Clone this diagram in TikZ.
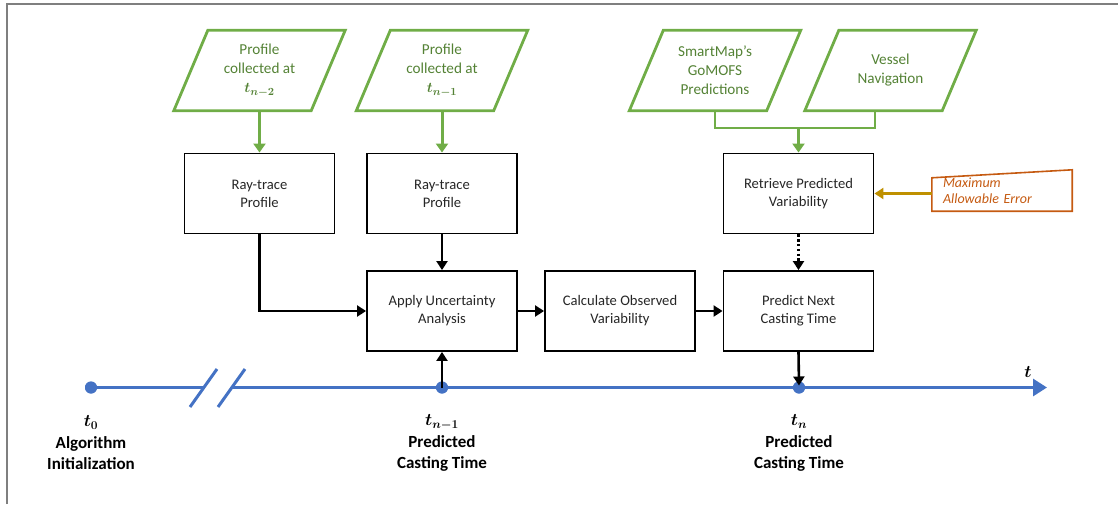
\documentclass[tikz,border=0pt]{standalone}
\usepackage{fontspec}
\setmainfont{Carlito}
\usepackage{amsmath}
\usepackage{bm}
\usetikzlibrary{arrows.meta,calc}
\definecolor{cgreen}{HTML}{70AD47}
\definecolor{cgtext}{HTML}{548235}
\definecolor{cblue}{HTML}{4472C4}
\definecolor{corange}{HTML}{C55A11}
\definecolor{cgold}{HTML}{BF9000}
\definecolor{cframe}{HTML}{7F7F7F}
\definecolor{ctxt}{HTML}{262626}
\newcommand\bxfont{\fontsize{14.6}{18}\selectfont}
\newcommand\grfont{\fontsize{15.2}{19}\selectfont}
\newcommand\lbfont{\fontsize{17}{21.5}\selectfont\bfseries}
\newcommand\erfont{\fontsize{14}{16.5}\selectfont\itshape}
\begin{document}
\begin{tikzpicture}[x=1pt,y=-1pt,
  proc/.style={draw=black,line width=1.9pt,minimum width=150pt,minimum height=80pt,align=center,font=\bxfont,text=ctxt,inner sep=0pt},
  iobox/.style={minimum width=137pt,minimum height=80pt,align=center,font=\grfont,text=cgtext,inner sep=0pt},
  arr/.style={draw=black,line width=2.6pt,-{Triangle[length=9pt,width=11pt]}},
  garr/.style={draw=cgreen,line width=3pt,-{Triangle[length=9pt,width=12pt]}},
  gpath/.style={draw=cgreen,line width=2.8pt},
  tline/.style={draw=cblue,line width=3pt},
  tdot/.style={circle,fill=cblue,minimum size=12pt,inner sep=0pt},
  lbl/.style={align=center,font=\lbfont,text=black,inner sep=0pt},
  errbox/.style={minimum width=140pt,minimum height=41pt,text width=118pt,align=left,font=\erfont,text=corange,inner sep=0pt}]
\useasboundingbox (0,0) rectangle (1118,504);
\draw[cframe,line width=1.8pt] (7,504) -- (7,4) -- (1118,4);

% input parallelograms
\node[iobox] (p1) at (259.5,70.5) {Profile\\collected at\\$\bm{t_{n-2}}$};
\node[iobox] (p2) at (442,70.5) {Profile\\collected at\\$\bm{t_{n-1}}$};
\node[iobox] (p3) at (715,70.5) {SmartMap’s\\GoMOFS\\Predictions};
\node[iobox] (p4) at (890.5,70.5) {Vessel\\Navigation};
\foreach \n in {p1,p2,p3,p4}
  \draw[gpath] ([xshift=17pt]\n.north west) -- ([xshift=17pt]\n.north east)
     -- ([xshift=-17pt]\n.south east) -- ([xshift=-17pt]\n.south west) -- cycle;

% process boxes
\node[proc] (r1) at (259.5,193.5) {Ray-trace\\Profile};
\node[proc] (r2) at (442,193.5) {Ray-trace\\Profile};
\node[proc] (ret) at (798.5,193.5) {Retrieve Predicted\\Variability};
\node[proc] (apply) at (442,311) {Apply Uncertainty\\Analysis};
\node[proc] (calc) at (620,311) {Calculate Observed\\Variability};
\node[proc] (pred) at (798.5,311) {Predict Next\\Casting Time};

% maximum allowable error
\node[errbox] (err) at (1002,190.5) {Maximum\\Allowable Error};
\draw[draw=corange,line width=1.6pt] (err.south west) -- ([yshift=-8pt]err.north west)
   -- (err.north east) -- (err.south east) -- cycle;

% timeline
\node[tdot] (d0) at (91,387.5) {};
\node[tdot] (d1) at (442,387.5) {};
\node[tdot] (d2) at (799,387.5) {};
\coordinate (b1) at (204,387.5);
\coordinate (b2) at (231,387.5);
\coordinate (tend) at (1047,387.5);
\draw[tline] (d0.center) -- (b1);
\draw[tline,-{Triangle[length=14pt,width=17pt]}] (b2) -- (tend);
\coordinate (s1a) at (190,407); \coordinate (s1b) at (217,369);
\coordinate (s2a) at (218,407); \coordinate (s2b) at (245,369);
\draw[tline] (s1a) -- (s1b);
\draw[tline] (s2a) -- (s2b);
\node[tdot] at (d0) {};
\node[tdot] at (d1) {};
\node[tdot] at (d2) {};

\node[lbl] (tlab) at (1028,372) {$\bm{t}$};
\node[lbl] (l0) at (91,443) {$\bm{t_0}$\\Algorithm\\Initialization};
\node[lbl] (l1) at (442,443) {$\bm{t_{n-1}}$\\Predicted\\Casting Time};
\node[lbl] (l2) at (799,443) {$\bm{t_n}$\\Predicted\\Casting Time};

% green connectors
\draw[garr] (p1.south) -- (r1.north);
\draw[garr] (p2.south) -- (r2.north);
\coordinate (gj) at (798.5,128);
\coordinate (p4b) at (875,110.5);
\draw[gpath] (p3.south) |- (p4b |- gj) -- (p4b);
\draw[garr] (gj) -- (ret.north);

% black connectors
\draw[arr] (r1.south) |- (apply.west);
\draw[arr] (r2.south) -- (apply.north);
\draw[arr] (d1.center) -- (apply.south);
\draw[arr] (apply.east) -- (calc.west);
\draw[arr] (calc.east) -- (pred.west);
\draw[arr,dash pattern=on 2.4pt off 2.4pt] (ret.south) -- (pred.north);
\draw[arr] (pred.south) -- ([yshift=2pt]d2.center);
\draw[draw=cgold,line width=2.4pt,-{Triangle[length=9pt,width=11pt]}] (err.west |- ret.east) -- (ret.east);
\end{tikzpicture}
\end{document}
